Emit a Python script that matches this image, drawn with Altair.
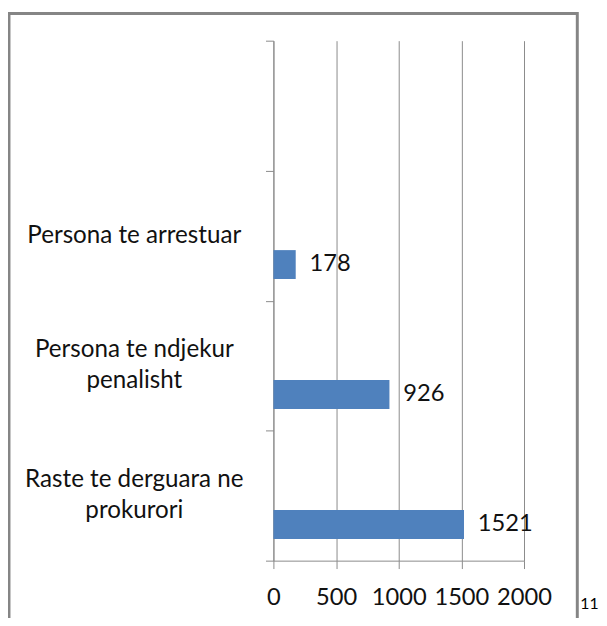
import altair as alt
import pandas as pd

# ---- data ----
categories = [" ", "Persona te arrestuar", "Persona te ndjekur|penalisht", "Raste te derguara ne|prokurori"]
bar_categories = ["Persona te arrestuar", "Persona te ndjekur|penalisht", "Raste te derguara ne|prokurori"]
values = [178, 926, 1521]
series = ["s1", "s1", "s1"]
series_domain = ["s3", "s2", "s1"]
x_ticks = [0, 500, 1000, 1500, 2000]
page_number = ["11"]

df = pd.DataFrame({"cat": bar_categories, "value": values, "series": series})
cat_df = pd.DataFrame({"cat": bar_categories})

GRAY = "#8a8a8a"
FONT = "Lato"
TXT = "#111111"

y_scale = alt.Scale(domain=categories, paddingInner=0, paddingOuter=0)
yoff_scale = alt.Scale(domain=series_domain, paddingInner=0, paddingOuter=0.75)
x_scale = alt.Scale(domain=[0, 2000], nice=False, zero=True)

y_axis = alt.Axis(
    title=None, tickBand="extent", grid=False, domainColor=GRAY, tickColor=GRAY,
    tickSize=8, labels=False,
)
x_axis = alt.Axis(
    title=None, values=x_ticks, format="d", grid=True, gridColor=GRAY, domainColor=GRAY,
    tickColor=GRAY, tickSize=8, labelFontSize=24, labelFont=FONT,
    labelColor=TXT, labelPadding=17, labelFlush=False,
)

bars = alt.Chart(df).mark_bar(color="#4F81BD").encode(
    x=alt.X("value:Q", scale=x_scale, axis=x_axis),
    y=alt.Y("cat:N", scale=y_scale, axis=y_axis, sort=None),
    yOffset=alt.YOffset("series:N", scale=yoff_scale),
)

labels = alt.Chart(df).mark_text(
    align="left", baseline="middle", dx=14, fontSize=24, font=FONT, color=TXT
).encode(
    x=alt.X("value:Q", scale=x_scale),
    y=alt.Y("cat:N", scale=y_scale, sort=None),
    yOffset=alt.YOffset("series:N", scale=yoff_scale),
    text=alt.Text("value:Q"),
)

def cat_labels(nlines, dy):
    return alt.Chart(cat_df).transform_calculate(
        n="length(split(datum.cat, '|'))"
    ).transform_filter(
        f"datum.n == {nlines}"
    ).mark_text(
        align="center", baseline="middle", lineBreak="|", lineHeight=31,
        fontSize=24.5, font=FONT, color=TXT, dy=dy,
    ).encode(
        x=alt.value(-141),
        y=alt.Y("cat:N", scale=y_scale, sort=None),
        text="cat:N",
    )

cat1 = cat_labels(1, 0)
cat2 = cat_labels(2, -15.5)

frame = alt.Chart(pd.DataFrame({"k": [0]})).mark_rect(
    fill="transparent", stroke="#858585", strokeWidth=3
).encode(
    x=alt.value(-268), x2=alt.value(308), y=alt.value(-27.5), y2=alt.value(700)
)

page = alt.Chart(pd.DataFrame({"t": page_number})).mark_text(
    align="left", baseline="middle", fontSize=16, font=FONT, color="black"
).encode(x=alt.value(311), y=alt.value(571), text="t:N")

chart = alt.layer(frame, bars, labels, cat1, cat2, page).properties(
    width=254, height=527,
    autosize=alt.AutoSizeParams(type="none"),
    padding={"left": 269, "top": 29, "right": 76, "bottom": 54},
    background="white",
).configure_view(stroke=None)

chart.save("out.html", embed_options={"renderer": "svg", "actions": False})
